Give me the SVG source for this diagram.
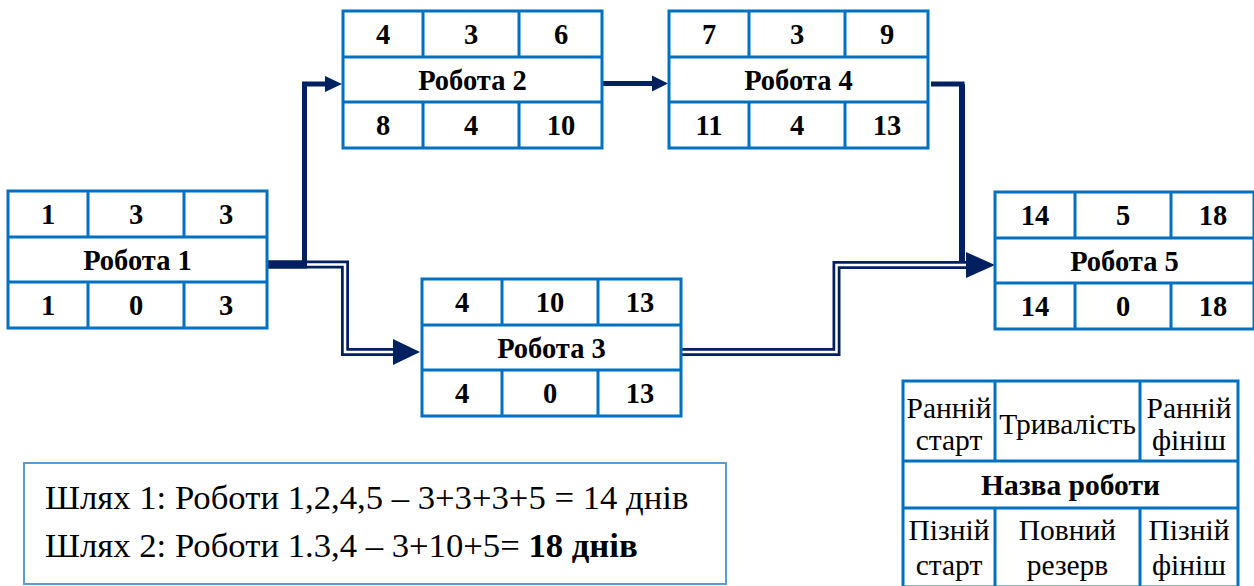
<svg xmlns="http://www.w3.org/2000/svg" width="1254" height="586" viewBox="0 0 1254 586" font-family="Liberation Serif, Times New Roman, serif">
  <style>
    .cell { fill: #ffffff; stroke: #0070c0; stroke-width: 3; }
    .grid { stroke: #0070c0; stroke-width: 3; fill: none; }
    .num { font-weight: bold; font-size: 28.5px; text-anchor: middle; fill: #000; }
    .lg { font-size: 29.5px; text-anchor: middle; fill: #000; }
    .lgb { font-weight: bold; font-size: 29.5px; text-anchor: middle; fill: #000; }
    .path { font-size: 34.7px; fill: #000; }
    .thick { fill: none; stroke: #002060; stroke-width: 5; }
    .dbl-out { fill: none; stroke: #002060; stroke-width: 8; }
    .dbl-in { fill: none; stroke: #ffffff; stroke-width: 2.5; }
    .head { fill: #002060; }
  </style>

  <defs>
    <!-- node frame: three rows, three columns in top and bottom rows -->
    <g id="frame">
      <rect class="cell" x="0" y="0" width="259" height="137"/>
      <path class="grid" d="M0,46 H259 M0,91 H259 M80,0 V46 M176,0 V46 M80,91 V137 M176,91 V137"/>
    </g>
  </defs>

  <!-- connectors -->
  <g id="connectors">
    <!-- Robota 1 -> Robota 3 (double line) -->
    <path class="dbl-out" d="M267,264.5 H345 V352 H396"/>
    <path class="dbl-in" d="M267,264.5 H345 V352 H396"/>
    <polygon class="head" points="393,339 420,352 393,365"/>
    <!-- Robota 1 -> Robota 2 -->
    <path d="M265,264.5 H307" stroke="#002060" stroke-width="8" fill="none"/>
    <path class="thick" d="M304.5,268 V84 H327"/>
    <polygon class="head" points="325,76 342,84 325,92"/>
    <!-- Robota 2 -> Robota 4 -->
    <path class="thick" d="M602,83.5 H654"/>
    <polygon class="head" points="652,75.5 668,83.5 652,91.5"/>
    <!-- Robota 4 -> Robota 5 -->
    <path class="thick" d="M931,84 H962 V262"/>
    <path d="M962,84 V262" stroke="#002060" stroke-width="6" fill="none"/>
    <!-- Robota 3 -> Robota 5 (double line) -->
    <path class="dbl-out" d="M681,352 H836.5 V265 H969"/>
    <path class="dbl-in" d="M681,352 H836.5 V265 H969"/>
    <polygon class="head" points="966,252 995,265 966,278"/>
  </g>

  <g id="robota1" transform="translate(8,191)">
    <use href="#frame"/>
    <text class="num" x="40" y="33">1</text>
    <text class="num" x="128" y="33">3</text>
    <text class="num" x="218" y="33">3</text>
    <text class="num" x="129.5" y="79">Робота 1</text>
    <text class="num" x="40" y="124">1</text>
    <text class="num" x="128" y="124">0</text>
    <text class="num" x="218" y="124">3</text>
  </g>

  <g id="robota2" transform="translate(343,11)">
    <use href="#frame"/>
    <text class="num" x="40" y="33">4</text>
    <text class="num" x="128" y="33">3</text>
    <text class="num" x="218" y="33">6</text>
    <text class="num" x="129.5" y="79">Робота 2</text>
    <text class="num" x="40" y="124">8</text>
    <text class="num" x="128" y="124">4</text>
    <text class="num" x="218" y="124">10</text>
  </g>

  <g id="robota4" transform="translate(669,11)">
    <use href="#frame"/>
    <text class="num" x="40" y="33">7</text>
    <text class="num" x="128" y="33">3</text>
    <text class="num" x="218" y="33">9</text>
    <text class="num" x="129.5" y="79">Робота 4</text>
    <text class="num" x="40" y="124">11</text>
    <text class="num" x="128" y="124">4</text>
    <text class="num" x="218" y="124">13</text>
  </g>

  <g id="robota3" transform="translate(422,279)">
    <use href="#frame"/>
    <text class="num" x="40" y="33">4</text>
    <text class="num" x="128" y="33">10</text>
    <text class="num" x="218" y="33">13</text>
    <text class="num" x="129.5" y="79">Робота 3</text>
    <text class="num" x="40" y="124">4</text>
    <text class="num" x="128" y="124">0</text>
    <text class="num" x="218" y="124">13</text>
  </g>

  <g id="robota5" transform="translate(995,192)">
    <use href="#frame"/>
    <text class="num" x="40" y="33">14</text>
    <text class="num" x="128" y="33">5</text>
    <text class="num" x="218" y="33">18</text>
    <text class="num" x="129.5" y="79">Робота 5</text>
    <text class="num" x="40" y="124">14</text>
    <text class="num" x="128" y="124">0</text>
    <text class="num" x="218" y="124">18</text>
  </g>

  <!-- legend: meaning of each cell -->
  <g id="legend">
    <rect class="cell" x="903" y="381" width="335" height="206"/>
    <path class="grid" d="M903,461 H1238 M903,508 H1238 M995,381 V461 M1140,381 V461 M995,508 V587 M1140,508 V587"/>
    <text class="lg" x="949" y="418">Ранній</text>
    <text class="lg" x="949" y="450">старт</text>
    <text class="lg" x="1067.5" y="434">Тривалість</text>
    <text class="lg" x="1189" y="418">Ранній</text>
    <text class="lg" x="1189" y="450">фініш</text>
    <text class="lgb" x="1070.5" y="495">Назва роботи</text>
    <text class="lg" x="949" y="540">Пізній</text>
    <text class="lg" x="949" y="575">старт</text>
    <text class="lg" x="1067.5" y="540">Повний</text>
    <text class="lg" x="1067.5" y="575">резерв</text>
    <text class="lg" x="1189" y="540">Пізній</text>
    <text class="lg" x="1189" y="575">фініш</text>
  </g>

  <!-- path summary -->
  <g id="paths">
    <rect x="24" y="463" width="702" height="121" fill="#ffffff" stroke="#5b9bd5" stroke-width="2"/>
    <text class="path" x="45" y="509">Шлях 1: Роботи 1,2,4,5 – 3+3+3+5 = 14 днів</text>
    <text class="path" x="45" y="557">Шлях 2: Роботи 1.3,4 – 3+10+5= <tspan font-weight="bold">18 днів</tspan></text>
  </g>
</svg>
